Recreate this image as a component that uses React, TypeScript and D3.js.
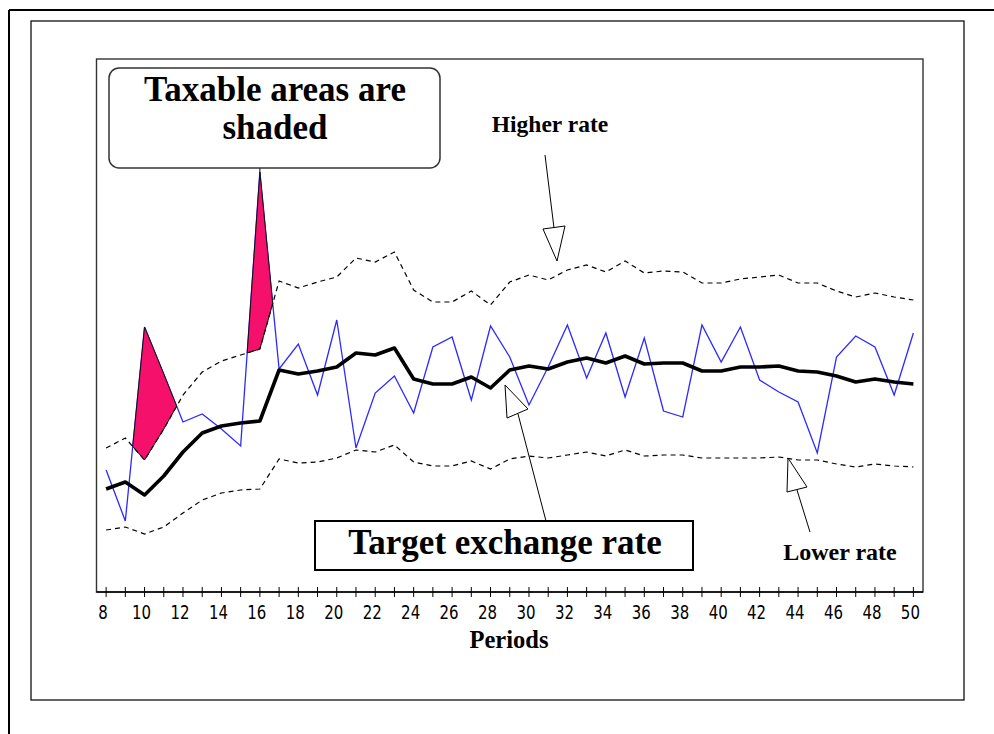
import React from "react";
import * as d3 from "d3";

// Periods 8..50
const periods: number[] = d3.range(8, 51);

// Actual exchange rate (index, height above axis)
const actualRate: number[] = [
  122, 71, 265, 218, 170, 178, 163, 146, 420, 223,
  248, 197, 272, 144, 199, 216, 179, 245, 255, 192,
  266, 235, 187, 225, 267, 214, 259, 195, 254, 181,
  175, 267, 230, 265, 212, 200, 190, 139, 235, 256,
  245, 197, 259,
];

// Target exchange rate
const targetRate: number[] = [
  103, 110, 97, 116, 140, 159, 166, 169, 171, 222,
  218, 221, 225, 239, 237, 244, 213, 208, 208, 215,
  204, 222, 226, 223, 230, 234, 229, 236, 228, 229,
  229, 221, 221, 225, 225, 226, 221, 220, 216, 210,
  213, 210, 208,
];

// Higher rate band
const higherRate: number[] = [
  144, 154, 132, 163, 197, 220, 231, 237, 243, 311,
  304, 310, 315, 334, 330, 340, 302, 290, 290, 301,
  287, 310, 317, 312, 322, 327, 320, 331, 319, 321,
  320, 309, 309, 313, 315, 317, 309, 309, 301, 295,
  299, 295, 292,
];

// Lower rate band
const lowerRate: number[] = [
  62, 65, 58, 65, 79, 92, 99, 102, 103, 133,
  129, 130, 134, 142, 140, 147, 130, 126, 126, 131,
  123, 133, 136, 134, 137, 140, 136, 142, 136, 137,
  137, 134, 134, 134, 134, 135, 132, 132, 128, 125,
  128, 126, 125,
];

const tickLabels: number[] = d3.range(8, 51, 2);

const W = 994;
const H = 734;
const plot = { left: 96.5, right: 923, top: 59, bottom: 592 };

export default function App() {
  const x = d3.scaleLinear().domain([7.5, 50.5]).range([plot.left, plot.right]);
  const y = d3.scaleLinear().domain([0, 533]).range([plot.bottom, plot.top]);

  const line = d3
    .line<number>()
    .x((_, i) => x(periods[i]))
    .y((d) => y(d));

  // Build points for shaded (taxable) areas: actual above higher band
  type P = { px: number; b: number; u: number; d: number };
  const pts: P[] = [];
  for (let i = 0; i < periods.length; i++) {
    const d0 = actualRate[i] - higherRate[i];
    pts.push({ px: periods[i], b: actualRate[i], u: higherRate[i], d: d0 });
    if (i < periods.length - 1) {
      const d1 = actualRate[i + 1] - higherRate[i + 1];
      if ((d0 < 0 && d1 > 0) || (d0 > 0 && d1 < 0)) {
        const t = d0 / (d0 - d1);
        const b = actualRate[i] + t * (actualRate[i + 1] - actualRate[i]);
        pts.push({ px: periods[i] + t, b, u: b, d: 0 });
      }
    }
  }
  const area = d3
    .area<P>()
    .defined((p) => p.d >= 0)
    .x((p) => x(p.px))
    .y0((p) => y(p.u))
    .y1((p) => y(p.b));

  const spikeIdx = actualRate.indexOf(d3.max(actualRate) as number);

  const serif = "'Liberation Serif', 'Times New Roman', serif";

  return (
    <svg
      width={W}
      height={H}
      viewBox={`0 0 ${W} ${H}`}
      style={{ position: "absolute", left: 0, top: 0, background: "#fff" }}
    >
      <rect x={0} y={0} width={W} height={H} fill="#fff" />
      {/* outer frame */}
      <line x1={9} y1={10} x2={W} y2={10} stroke="#000" strokeWidth={2} />
      <line x1={9} y1={10} x2={9} y2={H} stroke="#000" strokeWidth={2} />
      {/* inner frame */}
      <rect x={31} y={21} width={933} height={679} fill="none" stroke="#111" strokeWidth={1.3} />
      {/* plot box */}
      <rect
        x={plot.left}
        y={plot.top}
        width={plot.right - plot.left}
        height={plot.bottom - plot.top}
        fill="none"
        stroke="#333"
        strokeWidth={1.4}
      />
      {/* x axis ticks */}
      {periods.map((p) => (
        <line key={"t" + p} x1={x(p)} x2={x(p)} y1={plot.bottom - 5} y2={plot.bottom + 5} stroke="#000" strokeWidth={1} />
      ))}
      <line x1={plot.left} x2={plot.right} y1={plot.bottom} y2={plot.bottom} stroke="#000" strokeWidth={1.4} />
      {tickLabels.map((p) => (
        <text
          key={"l" + p}
          transform={`translate(${x(p) - 3},619) scale(1,1.35)`}
          textAnchor="middle"
          fontFamily="'DejaVu Sans', Verdana, sans-serif"
          fontSize={15}
          fill="#000"
        >
          {p}
        </text>
      ))}
      <text x={509} y={648} textAnchor="middle" fontFamily={serif} fontWeight="bold" fontSize={24.5} fill="#000">
        Periods
      </text>

      {/* actual rate */}
      <path d={line(actualRate) || ""} fill="none" stroke="#2a2aff" strokeWidth={1.3} />
      {/* taxable shaded areas */}
      <path d={area(pts) || ""} fill="#f5106c" stroke="#111" strokeWidth={1} />
      {/* bands */}
      <path d={line(higherRate) || ""} fill="none" stroke="#000" strokeWidth={1.2} strokeDasharray="5,4" />
      <path d={line(lowerRate) || ""} fill="none" stroke="#000" strokeWidth={1.2} strokeDasharray="5,4" />
      {/* target */}
      <path d={line(targetRate) || ""} fill="none" stroke="#000" strokeWidth={3.6} strokeLinejoin="round" />

      {/* callout */}
      <line x1={x(periods[spikeIdx])} x2={x(periods[spikeIdx])} y1={168} y2={y(actualRate[spikeIdx])} stroke="#000" strokeWidth={1} />
      <rect x={109} y={68} width={331} height={100} rx={10} ry={10} fill="#fff" stroke="#333" strokeWidth={1.5} />
      <text x={275} y={101} textAnchor="middle" fontFamily={serif} fontWeight="bold" fontSize={35} fill="#000">
        Taxable areas are
      </text>
      <text x={275} y={139} textAnchor="middle" fontFamily={serif} fontWeight="bold" fontSize={35} fill="#000">
        shaded
      </text>

      {/* Higher rate label + arrow */}
      <text x={550} y={132} textAnchor="middle" fontFamily={serif} fontWeight="bold" fontSize={23.5} fill="#000">
        Higher rate
      </text>
      <line x1={545} y1={155} x2={554} y2={228} stroke="#000" strokeWidth={1} />
      <polygon points="543,229 565,226 557,261" fill="#fff" stroke="#000" strokeWidth={1} />

      {/* Target box + arrow */}
      <line x1={518} y1={414} x2={546} y2={521} stroke="#000" strokeWidth={1} />
      <polygon points="505,385 507,418 528,409" fill="#fff" stroke="#000" strokeWidth={1} />
      <rect x={315} y={521} width={378} height={49} fill="#fff" stroke="#000" strokeWidth={2} />
      <text x={505} y={554} textAnchor="middle" fontFamily={serif} fontWeight="bold" fontSize={35} fill="#000">
        Target exchange rate
      </text>

      {/* Lower rate label + arrow */}
      <line x1={797} y1={490} x2={810} y2={532} stroke="#000" strokeWidth={1} />
      <polygon points="788,458 787,492 807,487" fill="#fff" stroke="#000" strokeWidth={1} />
      <text x={840} y={560} textAnchor="middle" fontFamily={serif} fontWeight="bold" fontSize={24} fill="#000">
        Lower rate
      </text>
    </svg>
  );
}
